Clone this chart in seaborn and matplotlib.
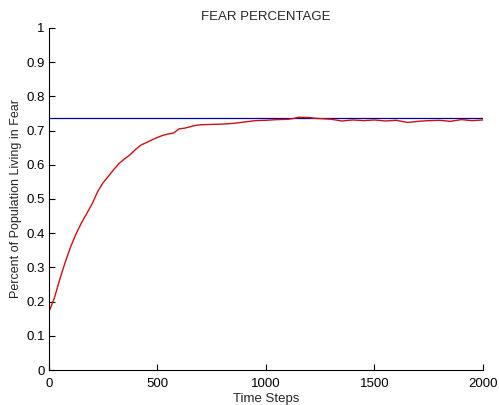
import matplotlib
matplotlib.use("Agg")
import matplotlib.pyplot as plt
import seaborn as sns
import pandas as pd

time_steps = [0, 25, 50, 75, 100, 125, 150, 175, 200, 225, 250, 275, 300, 325, 350,
              375, 400, 425, 450, 475, 500, 525, 550, 575, 600, 625, 650, 675, 700,
              750, 800, 850, 900, 950, 1000, 1050, 1100, 1125, 1150, 1200, 1225, 1250,
              1300, 1350, 1400, 1450, 1500, 1550, 1600, 1650, 1675, 1700, 1750, 1800,
              1850, 1900, 1950, 2000]
fear_pct = [0.170, 0.210, 0.265, 0.315, 0.360, 0.398, 0.430, 0.458, 0.487, 0.522, 0.548,
            0.567, 0.587, 0.605, 0.618, 0.630, 0.645, 0.658, 0.665, 0.673, 0.680, 0.686,
            0.690, 0.693, 0.705, 0.707, 0.711, 0.715, 0.717, 0.718, 0.719, 0.721, 0.725,
            0.729, 0.730, 0.732, 0.733, 0.735, 0.739, 0.738, 0.736, 0.735, 0.733, 0.728,
            0.731, 0.729, 0.731, 0.728, 0.730, 0.724, 0.725, 0.727, 0.729, 0.730, 0.727,
            0.732, 0.729, 0.731]
eq_steps = [0, 2000]
eq_level = [0.736, 0.736]

x_ticks = [0, 500, 1000, 1500, 2000]
y_ticks = [0, 0.1, 0.2, 0.3, 0.4, 0.5, 0.6, 0.7, 0.8, 0.9, 1]
y_ticklabels = ["0", "0.1", "0.2", "0.3", "0.4", "0.5", "0.6", "0.7", "0.8", "0.9", "1"]

sns.set_style("ticks")
plt.rcParams['font.family'] = ['Liberation Sans', 'DejaVu Sans']

fig = plt.figure(figsize=(4.99, 4.05), dpi=100)
ax = fig.add_axes([0.098, 0.0864, 0.87, 0.8446])

df = pd.DataFrame({"t": time_steps, "v": fear_pct})
df_eq = pd.DataFrame({"t": eq_steps, "v": eq_level})
sns.lineplot(data=df_eq, x="t", y="v", ax=ax, color="#0000aa", linewidth=0.9)
sns.lineplot(data=df, x="t", y="v", ax=ax, color="#d01010", linewidth=1.0)

ax.set_xlim(0, 2000)
ax.set_ylim(0, 1)
ax.set_xticks(x_ticks)
ax.set_xticklabels([str(v) for v in x_ticks])
ax.set_yticks(y_ticks)
ax.set_yticklabels(y_ticklabels)
ax.tick_params(direction="in", length=4, width=0.8, labelsize=9.5, colors="black", pad=3)
ax.tick_params(axis="x", pad=6)
for s in ["top", "right"]:
    ax.spines[s].set_visible(False)
for s in ["left", "bottom"]:
    ax.spines[s].set_linewidth(0.8)
    ax.spines[s].set_color("black")

ax.set_title("FEAR PERCENTAGE", fontsize=9.5, pad=6)
ax.set_xlabel("Time Steps", fontsize=9.5, labelpad=2)
ax.set_ylabel("Percent of Population Living in Fear", fontsize=9, labelpad=3)

fig.savefig("out.png", dpi=100)
